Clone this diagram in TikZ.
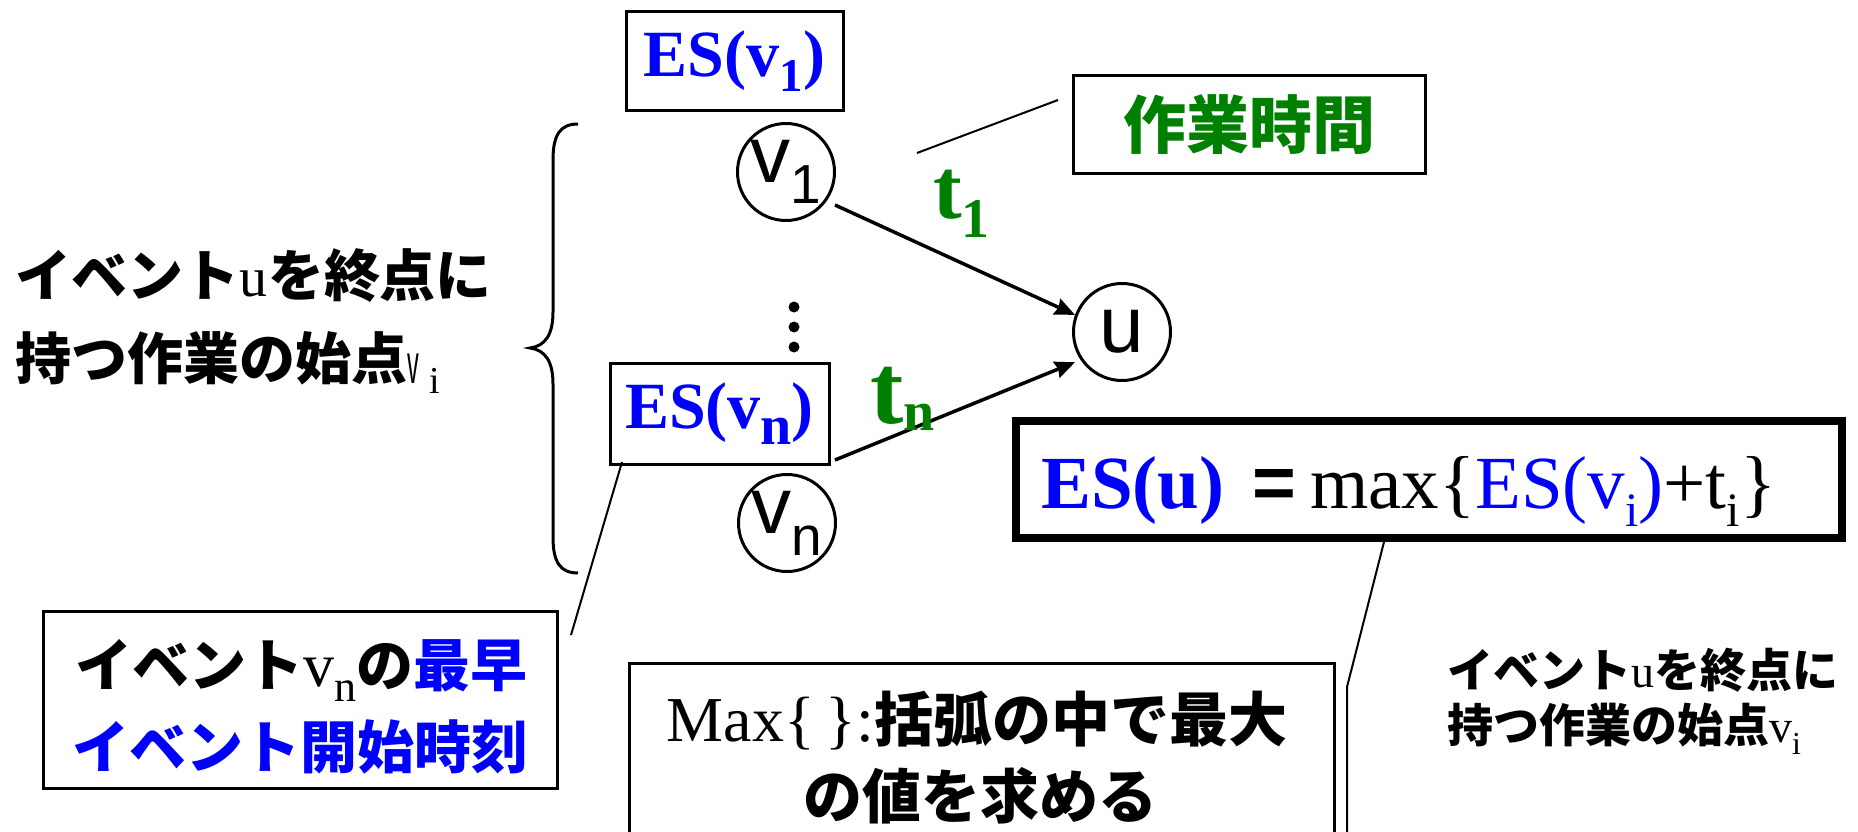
\documentclass[tikz,border=0pt]{standalone}
\usepackage{fontspec}
\setmainfont{Liberation Serif}
\newfontfamily\jp{Noto Sans CJK JP}
\newfontfamily\arial{Liberation Sans}
\usetikzlibrary{arrows.meta}
\definecolor{pblue}{RGB}{0,0,255}
\definecolor{pgreen}{RGB}{0,128,0}
\newcommand{\fs}[1]{\fontsize{#1}{#1}\selectfont}
\newcommand{\jb}{\jp\bfseries}
\begin{document}
\begin{tikzpicture}[x=1pt,y=-1pt,
  box/.style={draw=black, line width=3pt, inner sep=0pt},
  evt/.style={draw=black, line width=3pt, circle, minimum size=97pt, inner sep=0pt},
  arr/.style={line width=3.5pt, -{Stealth[length=20pt,width=17pt,inset=2pt]}},
  lead/.style={line width=2pt},
  txt/.style={inner sep=0pt, outer sep=0pt}]
\useasboundingbox (0,0) rectangle (1858,832);
\clip (0,0) rectangle (1858,832);
\fill[white] (0,0) rectangle (1858,832);

% ES boxes
\node[box, minimum width=217pt, minimum height=99pt] (es1) at (734.5,61.5)
  {\fs{66}\bfseries\color{pblue}ES(v\raisebox{-15pt}{\fs{47}1})};
\node[box, minimum width=219pt, minimum height=101pt] (esn) at (719.5,413.5)
  {\fs{66}\bfseries\color{pblue}ES(v\raisebox{-16pt}{\fs{56}n})};

% events
\node[evt] (v1) at (786,172) {\arial\fs{80}v\raisebox{-21pt}{\fs{55}1}};
\node[evt] (vn) at (787,523) {\arial\fs{80}v\raisebox{-22pt}{\fs{55}n}};
\node[evt] (u) at (1122,332) {\arial\fs{80}u};

% dots
\fill (794,307) circle (5.5pt);
\fill (794,327) circle (5.5pt);
\fill (794,347) circle (5.5pt);

% arrows
\coordinate (a1s) at (835,205);
\coordinate (a2s) at (835,460);
\draw[arr] (a1s) -- (u.160);
\draw[arr, shorten >=6pt] (a2s) -- (u.214);

% durations
\node[txt, anchor=base west, text=pgreen] (t1) at (933,218)
  {\fs{86}\bfseries t\raisebox{-20pt}{\fs{56}1}};
\node[txt, anchor=base west, text=pgreen] (tn) at (870,423)
  {\fs{100}\bfseries t\raisebox{-7pt}{\fs{56}n}};

% work time box
\node[box, minimum width=352pt, minimum height=97pt] (wt) at (1249,124.5)
  {\jb\fs{63}\color{pgreen}作業時間};
\coordinate (l1s) at (917,153);
\coordinate (l1e) at (1058,100);
\draw[lead] (l1s) -- (l1e);

% brace
\draw[line width=3pt] (578,124) .. controls (560,124) and (553,135) .. (553,160)
  -- (553,312) .. controls (553,335) and (545,346) .. (530,348)
  .. controls (545,350) and (553,361) .. (553,384)
  -- (553,537) .. controls (553,562) and (560,573) .. (578,573);

% left text
\node[txt, anchor=base west] (lt1) at (16,296) {\jb\fs{56}イベント{\rmfamily\mdseries u}を終点に};
\node[txt, anchor=base west] (lt2) at (16,379)
  {\jb\fs{56}持つ作業の始点\raisebox{-4pt}{\arial\mdseries\fs{56}\scalebox{0.42}[1]{v}}\hspace{10pt}\raisebox{-14pt}{\rmfamily\mdseries\fs{38}i}};

% lower-left box
\node[box, minimum width=514pt, minimum height=177pt] (ll) at (300,699.5) {};
\node[txt, anchor=base] (ll1) at (301,686)
  {\jb\fs{57}イベント{\rmfamily\mdseries\fs{62}v\raisebox{-15pt}{\fs{44}n}}の{\color{pblue}最早}};
\node[txt, anchor=base] (ll2) at (300.5,768)
  {\jb\fs{57}\color{pblue}イベント開始時刻};
\coordinate (l2s) at (622,462);
\coordinate (l2e) at (571,635);
\draw[lead] (l2s) -- (l2e);

% formula box
\node[draw, line width=8pt, minimum width=826pt, minimum height=117pt, inner sep=0pt] (fb) at (1429,479.5) {};
\node[txt, anchor=base west] (ff) at (1041,508)
  {\fs{75}{\bfseries\color{pblue}ES(u)}\hspace{28pt}{\arial\bfseries =}\hspace{14pt}max\{{\color{pblue}ES(v\raisebox{-18pt}{\fs{48}i})}+t\raisebox{-18pt}{\fs{48}i}\}};
\coordinate (f1) at (1385,538);
\coordinate (f2) at (1347,687);
\coordinate (f3) at (1347,840);
\draw[lead] (f1) -- (f2) -- (f3);

% Max box
\node[box, minimum width=705pt, minimum height=260pt, anchor=north west] (mb) at (628,662) {};
\node[txt, anchor=base] (mt1) at (977,741)
  {{\fs{64}Max\{\,\}:}{\jb\fs{59}括弧の中で最大}};
\node[txt, anchor=base] (mt2) at (980,818) {\jb\fs{59}の値を求める};

% right text
\node[txt, anchor=base west] (rt1) at (1447,687) {\jb\fs{46}イベント{\rmfamily\mdseries u}を終点に};
\node[txt, anchor=base west] (rt2) at (1447,742)
  {\jb\fs{46}持つ作業の始点{\rmfamily\mdseries v\raisebox{-12pt}{\fs{32}i}}};
\end{tikzpicture}
\end{document}
